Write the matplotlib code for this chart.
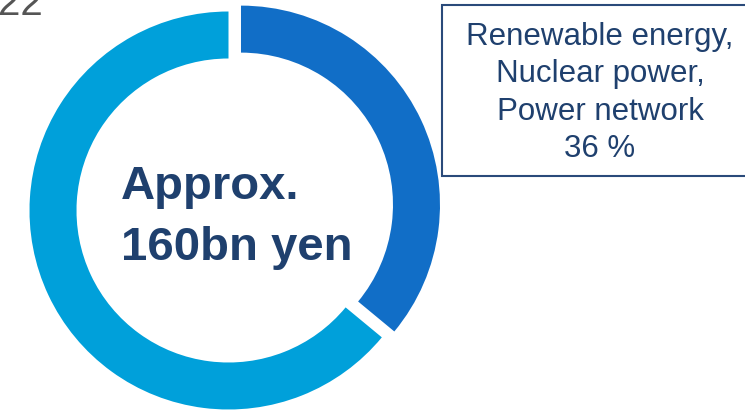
import matplotlib.pyplot as plt
from matplotlib.patches import Rectangle

# share of investment
labels = ["Renewable energy, Nuclear power, Power network", "Other"]
shares = [36, 64]
colors = ["#116EC7", "#00A0DA"]

center_text = ["Approx.", "160bn yen"]
box_lines = ["Renewable energy,", "Nuclear power,", "Power network", "36 %"]

W, H = 745, 411
navy = "#1F406E"

fig = plt.figure(figsize=(W / 100, H / 100), dpi=100)
ax = fig.add_axes([0, 0, 1, 1])

cx, cy, R = 228.5, H - 210.5, 199
# explode is in data units here (pixels), dark slice pulled out
ax.pie(shares, colors=colors, explode=[13.8, 0], startangle=90, counterclock=False,
       center=(cx, cy), radius=R, wedgeprops=dict(width=47, linewidth=0))

ax.set_xlim(0, W)
ax.set_ylim(0, H)
ax.set_aspect("equal")
ax.axis("off")

# partial heading at top left
ax.text(-2, H - 15, "22", fontsize=29, color="#555555", ha="left", va="baseline",
        family="Liberation Sans")

# centre label
for txt, y in zip(center_text, [199, 260]):
    ax.text(121, H - y, txt, fontsize=34, fontweight="bold", color=navy,
            ha="left", va="baseline", family="Liberation Sans")

# callout box
ax.add_patch(Rectangle((442, H - 176), 330, 171, facecolor="white",
                       edgecolor="#2A4A7A", linewidth=1.5, clip_on=False))
for txt, y in zip(box_lines, [45, 82, 120, 157]):
    ax.text(600, H - y, txt, fontsize=22.5, color=navy, ha="center", va="baseline",
            family="Liberation Sans")

fig.savefig("out.png", dpi=100)
